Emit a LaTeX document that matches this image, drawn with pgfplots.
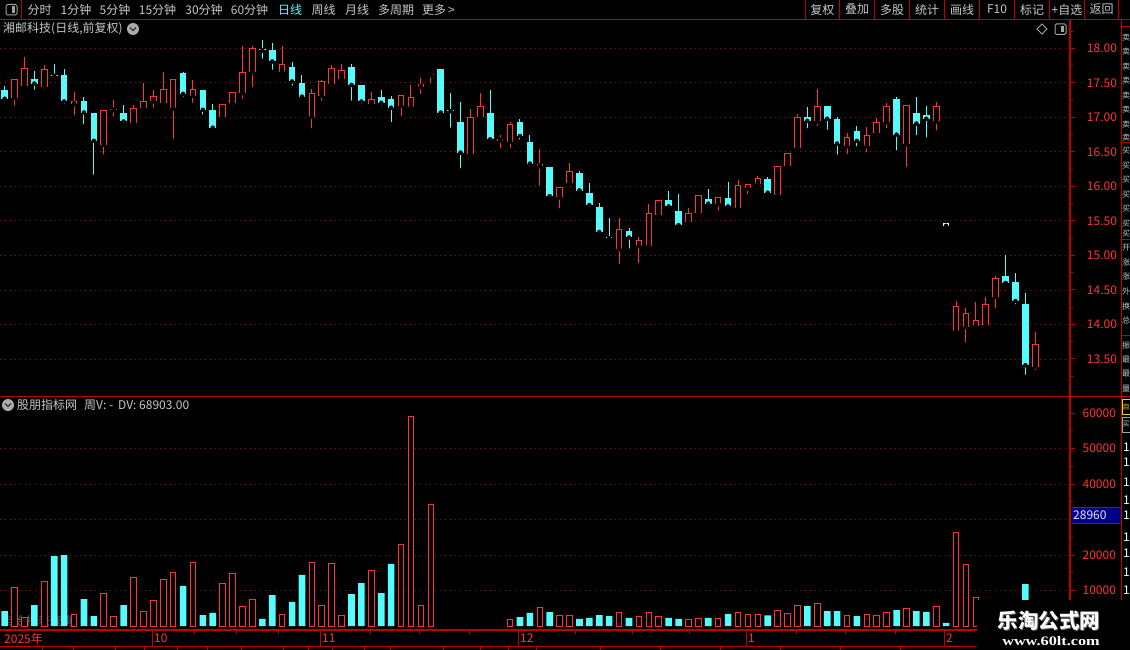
\documentclass[border=0pt]{standalone}
\usepackage{fontspec}
\setmainfont{Noto Sans CJK SC}
\newfontfamily\wmserif{Liberation Serif}
\usepackage{pgfplots}
\usepackage{pgfplotstable}
\pgfplotsset{compat=1.18}

\definecolor{kred}{RGB}{255,52,52}
\definecolor{kcyan}{RGB}{84,252,252}
\definecolor{frame}{RGB}{190,0,0}
\definecolor{gridred}{RGB}{150,16,16}
\definecolor{txt}{RGB}{200,200,200}
\definecolor{boxblue}{RGB}{0,0,135}
\newcommand{\fs}[1]{\fontsize{#1}{#1}\selectfont}

% daily bars: index, open, high, low, close
\pgfplotstableread{
i o h l c
1 17.40 17.45 17.25 17.27
2 17.28 17.55 17.14 17.55
3 17.46 17.87 17.44 17.71
4 17.56 17.67 17.37 17.49
5 17.44 17.76 17.37 17.70
6 17.62 17.77 17.54 17.60
7 17.61 17.70 17.16 17.23
8 17.19 17.36 17.00 17.24
9 17.24 17.30 16.87 17.07
10 17.06 17.06 16.14 16.66
11 16.60 17.11 16.43 17.11
12 17.10 17.25 16.98 17.12
13 17.06 17.18 16.90 16.94
14 16.92 17.18 16.89 17.13
15 17.13 17.50 17.13 17.24
16 17.23 17.40 17.11 17.31
17 17.21 17.65 17.16 17.41
18 17.13 17.55 16.66 17.55
19 17.64 17.66 17.27 17.34
20 17.31 17.54 17.18 17.41
21 17.40 17.40 17.01 17.11
22 17.11 17.19 16.82 16.85
23 17.00 17.19 17.00 17.19
24 17.21 17.37 17.14 17.37
25 17.35 18.03 17.24 17.65
26 17.65 18.03 17.41 18.00
27 17.99 18.12 17.82 17.97
28 17.98 18.08 17.66 17.81
29 17.66 18.03 17.62 17.77
30 17.73 17.80 17.43 17.52
31 17.50 17.61 17.28 17.30
32 17.01 17.41 16.81 17.35
33 17.31 17.54 17.21 17.53
34 17.48 17.76 17.42 17.71
35 17.55 17.77 17.49 17.69
36 17.73 17.77 17.21 17.47
37 17.47 17.47 17.16 17.23
38 17.19 17.37 17.19 17.26
39 17.29 17.40 17.14 17.21
40 17.26 17.31 16.90 17.14
41 17.17 17.32 16.99 17.32
42 17.15 17.47 17.15 17.30
43 17.44 17.57 17.31 17.49
44 17.61 17.65 17.46 17.63
45 17.70 17.70 17.02 17.07
46 17.11 17.35 16.82 17.09
47 16.93 17.22 16.23 16.49
48 16.47 17.12 16.47 17.00
49 17.00 17.35 17.00 17.16
50 17.06 17.40 16.68 16.68
51 16.66 16.74 16.52 16.68
52 16.65 16.93 16.53 16.90
53 16.93 16.98 16.65 16.73
54 16.64 16.74 16.30 16.33
55 16.29 16.54 15.98 16.32
56 16.28 16.28 15.81 15.86
57 15.84 15.99 15.65 15.99
58 16.05 16.34 16.05 16.22
59 16.19 16.22 15.94 15.94
60 15.90 16.05 15.68 15.73
61 15.70 15.76 15.31 15.34
62 15.27 15.54 15.20 15.25
63 15.09 15.54 14.84 15.38
64 15.35 15.40 15.07 15.26
65 15.14 15.27 14.86 15.22
66 15.14 15.74 15.08 15.61
67 15.59 15.81 15.55 15.80
68 15.80 15.93 15.67 15.71
69 15.64 15.89 15.39 15.44
70 15.48 15.69 15.44 15.62
71 15.61 15.87 15.56 15.87
72 15.82 15.96 15.71 15.75
73 15.74 15.85 15.62 15.85
74 15.83 16.06 15.69 15.71
75 15.68 16.09 15.62 16.02
76 15.97 16.03 15.86 16.03
77 16.04 16.15 15.99 16.12
78 16.11 16.14 15.86 15.91
79 15.88 16.30 15.86 16.30
80 16.29 16.48 16.29 16.48
81 16.55 17.05 16.52 17.01
82 17.00 17.15 16.81 16.95
83 16.94 17.41 16.84 17.16
84 17.16 17.17 16.79 16.98
85 16.98 17.00 16.43 16.62
86 16.58 16.78 16.44 16.72
87 16.80 16.88 16.55 16.66
88 16.58 16.86 16.46 16.74
89 16.78 16.99 16.71 16.93
90 16.93 17.21 16.81 17.16
91 17.27 17.29 16.49 16.75
92 16.61 17.18 16.25 17.18
93 17.06 17.30 16.71 16.91
94 17.03 17.16 16.68 16.98
95 16.94 17.22 16.78 17.17
97 13.91 14.34 13.91 14.27
98 13.96 14.24 13.71 14.16
99 13.98 14.32 13.97 14.07
100 13.99 14.40 13.97 14.29
101 14.40 14.70 14.21 14.67
102 14.70 15.00 14.60 14.60
103 14.61 14.74 14.26 14.34
104 14.30 14.46 13.24 13.41
105 13.39 13.89 13.31 13.72
}\kline

% volume: index, value, up(1)/down(0)
\pgfplotstableread{
i v u
1 4200 0
2 10900 1
3 2300 1
4 5900 0
5 12600 1
6 19700 0
7 20000 0
8 3300 1
9 7600 0
10 2800 0
11 9200 1
12 2700 1
13 5900 0
14 13700 1
15 4100 1
16 7200 1
17 13200 1
18 15100 1
19 11300 0
20 18000 1
21 3100 0
22 3700 0
23 12000 1
24 14900 1
25 5500 1
26 7500 1
27 2000 0
28 8700 0
29 3300 1
30 6800 0
31 14400 0
32 18000 1
33 5800 1
34 17700 1
35 3000 1
36 9000 0
37 12100 0
38 15700 1
39 9300 0
40 17500 0
41 23000 1
42 59200 1
43 5800 1
44 34300 1
52 1900 1
53 2500 0
54 3700 0
55 5100 1
56 3900 0
57 3100 1
58 3100 1
59 2000 0
60 2300 0
61 3100 0
62 2800 0
63 3700 1
64 2300 0
65 2800 1
66 3700 1
67 2800 1
68 2300 0
69 2000 0
70 1700 1
71 2000 1
72 2300 0
73 2000 1
74 3400 0
75 3700 1
76 3300 1
77 3300 1
78 3000 0
79 4400 1
80 3600 1
81 5800 1
82 5600 0
83 6400 1
84 4200 0
85 4200 0
86 3000 1
87 2800 0
88 3300 1
89 3000 1
90 3900 1
91 4500 0
92 5000 1
93 4200 0
94 4000 0
95 5600 1
96 850 0
97 26400 1
98 17400 1
99 7900 1
100 5200 1
101 6400 1
102 4300 0
103 5000 0
104 11800 0
105 4600 1
}\vol

\pgfplotsset{
  panel/.style={
    scale only axis, width=1070pt, anchor=south west,
    xmin=0.5288, xmax=108.5, xtick=\empty,
    axis x line=none, axis y line=right,
    axis line style={draw=frame, line width=1.3pt, -},
    tick align=outside, major tick length=4.5pt, minor tick length=2.5pt,
    tick style={draw=frame, line width=1pt},
    yticklabel style={font=\fs{12}, text=kred, anchor=east, xshift=46pt},
    grid style={draw=gridred, line width=0.9pt, dash pattern=on 1pt off 4pt},
    /pgf/number format/assume math mode=true,
  },
  stick/.style={only marks, mark=none, error bars/.cd, y dir=plus, y explicit,
    error mark=none, error bar style={draw=#1, line width=1pt}, /pgfplots/.cd},
  body/.style 2 args={only marks, mark=none, error bars/.cd, y dir=plus, y explicit,
    error mark=none, error bar style={draw=#1, line width=#2}, /pgfplots/.cd},
}

\begin{document}
\begin{tikzpicture}
\fill[black] (0pt,0pt) rectangle (1130pt,-650pt);
\path[use as bounding box] (0pt,0pt) rectangle (1130pt,-650pt);
\node[text=black!62, font=\fs{12}, inner sep=0, anchor=west] at (2pt,-620.5pt) {自治报表查询};

% price panel
\begin{axis}[panel, at={(0pt,-396pt)}, height=376pt,
  ymin=12.964, ymax=18.41,
  ytick={13.5,14,...,18}, minor ytick={13.25,13.75,...,18.25},
  ymajorgrids,
  yticklabel style={/pgf/number format/fixed, /pgf/number format/fixed zerofill,
    /pgf/number format/precision=2},
]
% rising days
\addplot[restrict expr to domain={\thisrow{c}-\thisrow{o}}{0:10}, stick=kred]
  table[x=i, y=l, y error plus expr=\thisrow{h}-\thisrow{l}] {\kline};
\addplot[restrict expr to domain={\thisrow{c}-\thisrow{o}}{0:10}, body={kred}{6.6pt}]
  table[x=i, y=o, y error plus expr=\thisrow{c}-\thisrow{o}] {\kline};
\addplot[restrict expr to domain={\thisrow{c}-\thisrow{o}}{0:10}, body={black}{4.6pt}]
  table[x=i, y expr=\thisrow{o}+0.0145,
        y error plus expr={max(\thisrow{c}-\thisrow{o}-0.029,0)}] {\kline};
% falling days
\addplot[restrict expr to domain={\thisrow{o}-\thisrow{c}}{0.0001:10}, stick=kcyan]
  table[x=i, y=l, y error plus expr=\thisrow{h}-\thisrow{l}] {\kline};
\addplot[restrict expr to domain={\thisrow{o}-\thisrow{c}}{0.0001:10}, body={kcyan}{6.6pt}]
  table[x=i, y=c, y error plus expr=\thisrow{o}-\thisrow{c}] {\kline};
% suspended day
\addplot[body={white}{6.6pt}] coordinates {(96,15.43) +- (0,0.035)};
\end{axis}

% volume panel
\begin{axis}[panel, at={(0pt,-630pt)}, height=234pt,
  ymin=-1128, ymax=64862, scaled y ticks=false,
  ytick={10000,20000,40000,50000,60000}, minor ytick={5000,15000,...,55000},
  extra y ticks={10000,20000,...,50000}, extra y tick labels={},
  extra y tick style={ymajorgrids=true, major tick length=0pt},
  yticklabel style={/pgf/number format/fixed, /pgf/number format/precision=0,
    /pgf/number format/1000 sep={}, xshift=-1pt},
]
\addplot[ybar, bar width=5.6pt, bar shift=0pt, draw=kred, fill=black, line width=1pt,
  restrict expr to domain={\thisrow{u}}{0.5:1.5}] table[x=i, y=v] {\vol};
\addplot[ybar, bar width=6.6pt, bar shift=0pt, draw=none, fill=kcyan,
  restrict expr to domain={\thisrow{u}}{-0.5:0.5}] table[x=i, y=v] {\vol};
\end{axis}

\begin{scope}[x=1pt, y=-1pt]
% toolbar
\draw[frame, line width=1pt] (0,19.5) -- (1130,19.5);
\draw[frame, line width=1pt] (21.5,0) -- (21.5,19.5);
\draw[gray!75, line width=1pt, rounded corners=1.5pt] (6,4.5) rectangle (17,15);
\fill[gray!75] (12,6.5) rectangle (15,13);
\foreach \x/\t in {39.5/分时, 76/1分钟, 115/5分钟, 157.5/15分钟, 204/30分钟, 249.5/60分钟,
  323.5/周线, 357/月线, 396/多周期, 438.5/更多\,>}
  \node[text=txt, font=\fs{12}, inner sep=0] at (\x,9.5) {\t};
\node[text=kcyan, font=\fs{12}, inner sep=0] at (290,9.5) {日线};
\foreach \x in {805.5,839.3,874.5,909.5,944.4,979.6,1014.5,1049.8,1084.4,1118.9}
  \draw[frame, line width=1pt] (\x,0) -- (\x,19.5);
\foreach \x/\t in {822.4/复权, 857/叠加, 892/多股, 927/统计, 962/画线, 997/F10,
  1032/标记, 1067/+自选, 1101.7/返回}
  \node[text=txt, font=\fs{12}, inner sep=0] at (\x,9.5) {\t};

% price title row
\node[text=txt, font=\fs{12}, inner sep=0, anchor=west] at (3,29) {湘邮科技(日线,前复权)};
\fill[gray!65] (133,29) circle (6);
\draw[black!80, line width=1.2pt] (130,27.5) -- (133,30.5) -- (136,27.5);
\draw[gray!70, line width=0.9pt] (1042,24) -- (1047,29) -- (1042,34) -- (1037,29) -- cycle;
\draw[gray!70, line width=1pt, rounded corners=1.5pt] (1055,24) rectangle (1066,34.5);
\fill[gray!70] (1060.5,26) rectangle (1063.5,32.5);

% panel separators and quote column
\draw[frame, line width=1.2pt] (0,396.5) -- (1130,396.5);
\draw[frame, line width=1pt] (1121,19.5) -- (1121,600);
\foreach \y in {27,142.7,239,335.7}
  \draw[frame, line width=1pt] (1121,\y) -- (1130,\y);
\foreach \y in {37,51.5,66,80.5,95,109.5,124,137}
  \node[text=txt, font=\fs{8}, anchor=west, inner sep=0] at (1121.8,\y) {卖};
\foreach \y in {151,165.5,180,194.5,209,223.5,234}
  \node[text=txt, font=\fs{8}, anchor=west, inner sep=0] at (1121.8,\y) {买};
\foreach \y/\t in {248/开,262.5/涨,277/涨,291.5/外,306/换,320.5/总,345/振,359.5/最,374/最,388/量}
  \node[text=txt, font=\fs{8}, anchor=west, inner sep=0] at (1121.8,\y) {\t};
\draw[yellow!85!black, line width=1pt] (1122,399) rectangle (1130,414);
\node[text=yellow!85!black, font=\fs{7}, anchor=west, inner sep=0] at (1122.4,406.5) {自};
\draw[gray!70, line width=0.8pt] (1122,417) rectangle (1130,432);
\node[text=txt, font=\fs{7}, anchor=west, inner sep=0] at (1122.4,424.5) {买};
\foreach \y in {447,462,482,500,515,537,553,572,590}
  \node[text=white, font=\fs{12}, anchor=west, inner sep=0] at (1123,\y) {1};

% volume title row
\fill[gray!65] (8,405) circle (6);
\draw[black!80, line width=1.2pt] (5,403.5) -- (8,406.5) -- (11,403.5);
\node[text=txt, font=\fs{12}, inner sep=0, anchor=west] at (17,405) {股朋指标网};
\node[text=txt, font=\fs{12}, inner sep=0, anchor=west] at (84,405) {周V: -};
\node[text=txt, font=\fs{12}, inner sep=0, anchor=west] at (118,405) {DV: 68903.00};

% last value box
\fill[boxblue] (1071.5,507) rectangle (1120.5,523);
\draw[frame, line width=0.8pt] (1071.5,507) -- (1120.5,507) (1071.5,523) -- (1120.5,523);
\node[text=white!90!blue, font=\fs{12}, inner sep=0, anchor=west] at (1073,515.5) {28960};

% date axis
\draw[frame, line width=1.2pt] (0,630) -- (1130,630);
\draw[frame, line width=1.2pt] (0,646.5) -- (1130,646.5);
\foreach \x in {152.5,320.4,518.2,746.2,944}
  \draw[frame, line width=1pt] (\x,630) -- (\x,646.5);
\foreach \x in {194.6,236.4,278.2,370.4,419.3,469,575.3,632.3,689,796,845,895}
  \draw[frame, line width=1pt] (\x,630) -- (\x,634);
\foreach \x in {42,73,115,144,177.5,207,241,283,308,332,364,390,443.6,480,508,536,600,660,720,780,840,900}
  \draw[frame, line width=1pt] (\x,646.5) -- (\x,650);
\foreach \x/\t in {4/2025年, 154/10, 322/11, 520/12, 748/1, 946/2}
  \node[text=kred, font=\fs{12}, inner sep=0, anchor=west] at (\x,638.5) {\t};

% watermark
\fill[black] (977,600) rectangle (1130,650);
\node[text=black!60, font=\fs{20.5}\bfseries, inner sep=0] at (1050,621.5) {乐淘公式网};
\node[text=white, font=\fs{20.5}\bfseries, inner sep=0] at (1049,620.5) {乐淘公式网};
\node[text=white, font=\wmserif\fs{13}\bfseries, inner sep=0, xscale=1.25, transform shape] at (1051,641) {www.60lt.com};
\end{scope}
\end{tikzpicture}
\end{document}
